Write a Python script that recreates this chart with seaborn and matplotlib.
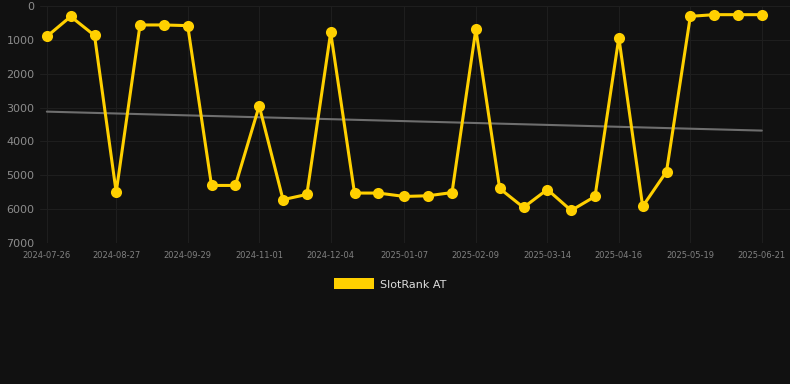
import matplotlib
matplotlib.use("Agg")
import matplotlib.pyplot as plt
import matplotlib.dates as mdates
import matplotlib.patches as mpatches
import pandas as pd
import seaborn as sns

# data (rank, lower is better -> inverted axis)
dates = ['2024-07-26', '2024-08-06', '2024-08-17', '2024-08-27', '2024-09-07',
         '2024-09-18', '2024-09-29', '2024-10-10', '2024-10-21', '2024-11-01',
         '2024-11-12', '2024-11-23', '2024-12-04', '2024-12-15', '2024-12-26',
         '2025-01-07', '2025-01-18', '2025-01-29', '2025-02-09', '2025-02-20',
         '2025-03-03', '2025-03-14', '2025-03-25', '2025-04-05', '2025-04-16',
         '2025-04-27', '2025-05-08', '2025-05-19', '2025-05-30', '2025-06-10',
         '2025-06-21']
ranks = [900, 310, 870, 5500, 560, 560, 580, 5300, 5300, 2950,
         5720, 5565, 780, 5525, 5525, 5625, 5605, 5510, 690, 5390,
         5950, 5420, 6040, 5625, 935, 5920, 4890, 305, 256, 256,
         256]
tick_dates = ['2024-07-26', '2024-08-27', '2024-09-29', '2024-11-01', '2024-12-04',
              '2025-01-07', '2025-02-09', '2025-03-14', '2025-04-16', '2025-05-19',
              '2025-06-21']
trend_dates = ['2024-07-26', '2025-06-21']
trend_vals = [3120, 3680]
y_ticks = [0, 1000, 2000, 3000, 4000, 5000, 6000, 7000]

df = pd.DataFrame({'date': pd.to_datetime(dates), 'rank': ranks})
df_trend = pd.DataFrame({'date': pd.to_datetime(trend_dates), 'rank': trend_vals})

bg = '#111111'
gold = '#FFD000'

sns.set_style('dark')
fig = plt.figure(figsize=(7.9, 3.84), dpi=100, facecolor=bg)
ax = fig.add_axes([40/790, 1 - 243/384, 750/790, 237/384])
ax.set_facecolor(bg)

sns.lineplot(data=df_trend, x='date', y='rank', ax=ax, color='#6e6e6e', linewidth=1.5)
sns.lineplot(data=df, x='date', y='rank', ax=ax, color=gold, linewidth=2.2,
             marker='o', markersize=8, markeredgewidth=0, solid_joinstyle='miter')

ax.set_ylim(7000, 0)
ax.set_xlim(pd.Timestamp('2024-07-22 20:00'), pd.Timestamp('2025-07-04'))
ax.set_yticks(y_ticks)
ax.set_xticks(pd.to_datetime(tick_dates))
ax.xaxis.set_major_formatter(mdates.DateFormatter('%Y-%m-%d'))
ax.tick_params(axis='y', colors='#8c8c8c', labelsize=8, length=0, pad=4)
ax.tick_params(axis='x', colors='#808080', labelsize=6, length=0, pad=6)
ax.grid(True, color='#1e1e1e', linewidth=0.8)
for s in ax.spines.values():
    s.set_visible(False)
ax.set_xlabel('')
ax.set_ylabel('')

handle = mpatches.Rectangle((0, 0), 1, 1, facecolor=gold, edgecolor='none')
fig.legend([handle], ['SlotRank AT'], loc='center left', bbox_to_anchor=(334/790, 1 - 284/384),
           frameon=False, fontsize=8, labelcolor='#dddddd', handlelength=3.6,
           handleheight=1.15, handletextpad=0.55, borderpad=0, borderaxespad=0)

fig.savefig('out.png', dpi=100, facecolor=bg)
